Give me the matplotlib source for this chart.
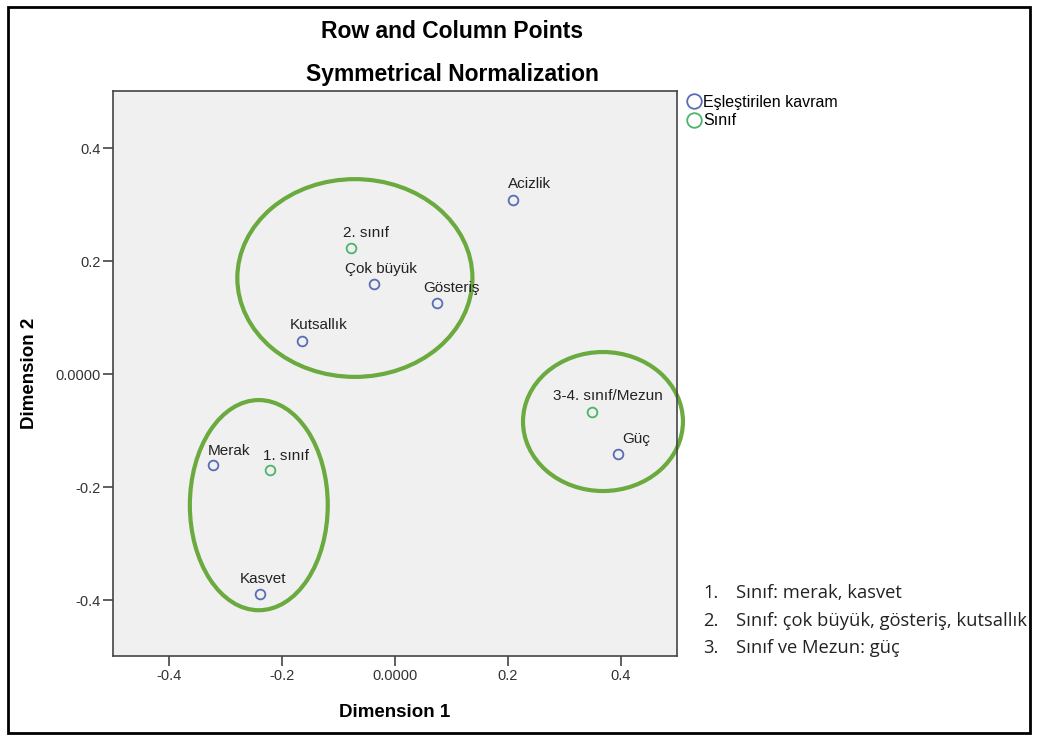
import matplotlib.pyplot as plt
from matplotlib.lines import Line2D
from matplotlib.patches import Ellipse, Rectangle

# row points (Eşleştirilen kavram)
row_labels = ["Acizlik", "Çok büyük", "Gösteriş", "Kutsallık", "Merak", "Kasvet", "Güç"]
row_x = [0.209, -0.037, 0.074, -0.165, -0.322, -0.239, 0.395]
row_y = [0.308, 0.159, 0.126, 0.058, -0.161, -0.389, -0.142]

# column points (Sınıf)
col_labels = ["2. sınıf", "1. sınıf", "3-4. sınıf/Mezun"]
col_x = [-0.078, -0.221, 0.349]
col_y = [0.223, -0.170, -0.067]

# hand-drawn groupings: centre x, centre y, width, height
groups = [
    (-0.071, 0.170, 0.416, 0.350),
    (-0.241, -0.232, 0.244, 0.372),
    (0.368, -0.084, 0.283, 0.246),
]

notes_num = ["1.", "2.", "3."]
notes_txt = ["Sınıf: merak, kasvet", "Sınıf: çok büyük, gösteriş, kutsallık", "Sınıf ve Mezun: güç"]

# label offsets in pixels (left edge / baseline of text relative to the point)
row_off = [(-5, 12), (-29, 11), (-14, 11), (-12, 12), (-5, 10), (-20, 11), (4, 11)]
col_off = [(-8, 11), (-7, 10), (-39, 12)]

plt.rcParams["font.family"] = ["Liberation Sans", "DejaVu Sans"]

blue = "#5a6cb5"
green = "#4cb46a"
ring = "#6aaa3f"

fig = plt.figure(figsize=(10.38, 7.40), dpi=100)
ax = fig.add_axes([113 / 1038, 1 - 656 / 740, 564 / 1038, 565 / 740])
ax.set_facecolor("#f0f0f0")

ax.plot(row_x, row_y, "o", ms=7, mfc="none", mec=blue, mew=1.3, clip_on=False)
ax.plot(col_x, col_y, "o", ms=7, mfc="none", mec=green, mew=1.3, clip_on=False)

for lab, x, y, off in zip(row_labels, row_x, row_y, row_off):
    ax.annotate(lab, (x, y), xytext=off, textcoords="offset pixels",
                ha="left", va="baseline", fontsize=11, color="#222222")
for lab, x, y, off in zip(col_labels, col_x, col_y, col_off):
    ax.annotate(lab, (x, y), xytext=off, textcoords="offset pixels",
                ha="left", va="baseline", fontsize=11, color="#222222")

for cx, cy, w, h in groups:
    ax.add_patch(Ellipse((cx, cy), w, h, fill=False, ec=ring, lw=3, clip_on=False))

ax.set_xlim(-0.499, 0.499)
ax.set_ylim(-0.499, 0.501)
ax.set_xticks([-0.4, -0.2, 0.0, 0.2, 0.4])
ax.set_xticklabels(["-0.4", "-0.2", "0.0000", "0.2", "0.4"])
ax.set_yticks([-0.4, -0.2, 0.0, 0.2, 0.4])
ax.set_yticklabels(["-0.4", "-0.2", "0.0000", "0.2", "0.4"])
ax.tick_params(direction="out", length=7, width=1.2, color="#444444",
               labelsize=10.5, labelcolor="#333333", pad=2)
for s in ax.spines.values():
    s.set_color("#444444")
    s.set_linewidth(1.2)

ax.set_xlabel("Dimension 1", fontsize=13.5, fontweight="bold")
ax.set_ylabel("Dimension 2", fontsize=13.5, fontweight="bold")
ax.xaxis.set_label_coords(0.5, (656 - 704) / 565)
ax.yaxis.set_label_coords((38 - 113) / 564, 0.5)

fig.text(452 / 1038, 1 - 31 / 740, "Row and Column Points", ha="center", va="center",
         fontsize=16.5, fontweight="bold")
fig.text(452 / 1038, 1 - 75 / 740, "Symmetrical Normalization", ha="center", va="center",
         fontsize=16.5, fontweight="bold")

handles = [
    Line2D([], [], ls="none", marker="o", ms=10.5, mfc="none", mec=blue, mew=1.3),
    Line2D([], [], ls="none", marker="o", ms=10.5, mfc="none", mec=green, mew=1.3),
]
fig.legend(handles, ["Eşleştirilen kavram", "Sınıf"], loc="upper left",
           bbox_to_anchor=(686 / 1038, 1 - 95 / 740), frameon=False, fontsize=11.5,
           handletextpad=0.05, handlelength=1.0, borderaxespad=0, labelspacing=0.2,
           borderpad=0)

for i, (num, txt) in enumerate(zip(notes_num, notes_txt)):
    y = 1 - (593 + 27.5 * i) / 740
    fig.text(703 / 1038, y, num, ha="left", va="center", fontsize=13.2,
             family=["Open Sans", "DejaVu Sans"], color="#222222")
    fig.text(736 / 1038, y, txt, ha="left", va="center", fontsize=13.2,
             family=["Open Sans", "DejaVu Sans"], color="#222222")

fig.add_artist(Rectangle((8 / 1038, 7 / 740), 1022 / 1038, 726 / 740,
                         transform=fig.transFigure, fill=False, ec="black", lw=2))

fig.savefig("out.png", dpi=100)
